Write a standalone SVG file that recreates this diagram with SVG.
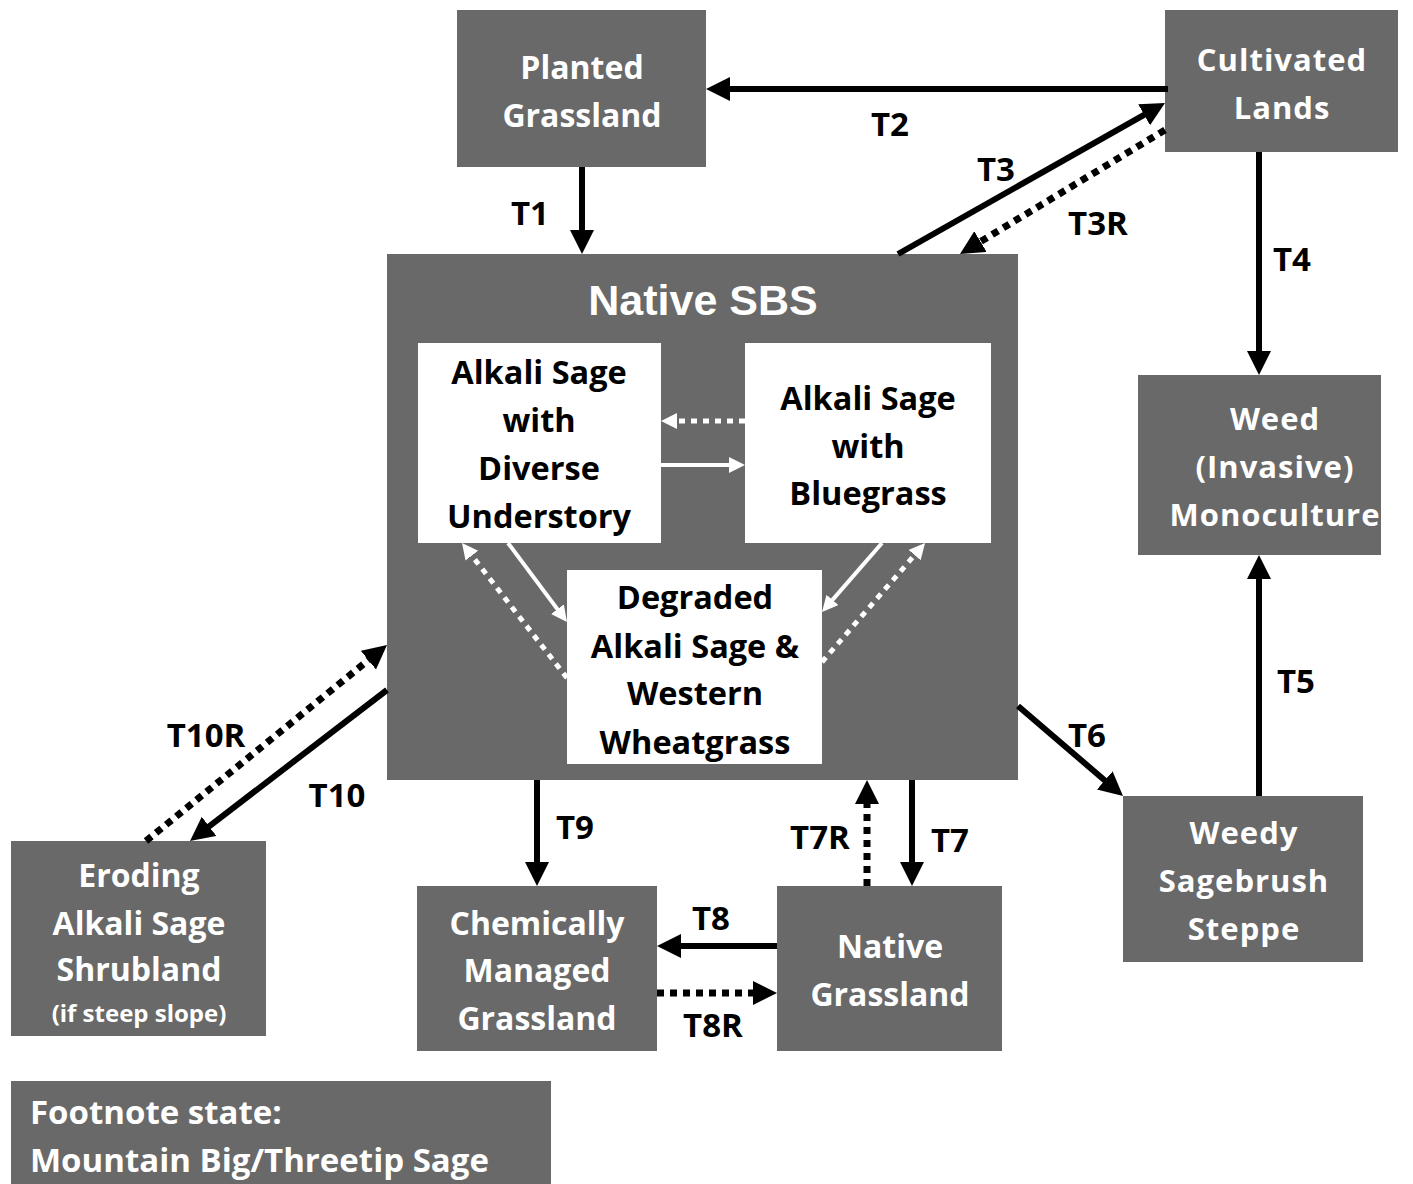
<svg xmlns="http://www.w3.org/2000/svg" width="1413" height="1184" viewBox="0 0 1413 1184">
<defs>
<marker id="ab" markerUnits="userSpaceOnUse" markerWidth="26" markerHeight="26" refX="4" refY="12" orient="auto"><path d="M0,0 L24,12 L0,24 z" fill="#000"/></marker>
<marker id="aw" markerUnits="userSpaceOnUse" markerWidth="18" markerHeight="18" refX="4" refY="8" orient="auto"><path d="M0,0 L16,8 L0,16 z" fill="#fff"/></marker>
</defs>
<style>
.box{fill:#696969}
.wbox{fill:#fff}
.t{font-family:"Open Sans","Liberation Sans",sans-serif;font-weight:700;font-size:32px;fill:#fff;text-anchor:middle}
.tw{font-size:31px;letter-spacing:1px}
.k{font-family:"Open Sans","Liberation Sans",sans-serif;font-weight:700;font-size:32.5px;fill:#000;text-anchor:middle}
.lbl{font-family:"Open Sans","Liberation Sans",sans-serif;font-weight:700;font-size:33px;fill:#000;text-anchor:middle}
.s{stroke:#000;stroke-width:6;fill:none;marker-end:url(#ab)}
.d{stroke:#000;stroke-width:7;fill:none;stroke-dasharray:7 6;marker-end:url(#ab)}
.sw{stroke:#fff;stroke-width:4;fill:none;marker-end:url(#aw)}
.dw{stroke:#fff;stroke-width:5;fill:none;stroke-dasharray:6 6;marker-end:url(#aw)}
</style>
<rect width="1413" height="1184" fill="#fff"/>
<g id="native-sbs">
<rect class="box" x="387" y="254" width="631" height="526"/>
<text x="703" y="315" style="font-family:'Liberation Sans',Arial,sans-serif;font-weight:700;font-size:43px;fill:#fff;text-anchor:middle">Native SBS</text>
</g>
<g id="diverse">
<rect class="wbox" x="418" y="343" width="243" height="200"/>
<text class="k" x="539" y="384">Alkali Sage</text>
<text class="k" x="539" y="432">with</text>
<text class="k" x="539" y="480">Diverse</text>
<text class="k" x="539" y="528">Understory</text>
</g>
<g id="bluegrass">
<rect class="wbox" x="745" y="343" width="246" height="200"/>
<text class="k" x="868" y="410">Alkali Sage</text>
<text class="k" x="868" y="458">with</text>
<text class="k" x="868" y="505">Bluegrass</text>
</g>
<g id="degraded">
<rect class="wbox" x="567" y="570" width="255" height="194"/>
<text class="k" x="695" y="609">Degraded</text>
<text class="k" x="695" y="658">Alkali Sage &amp;</text>
<text class="k" x="695" y="705">Western</text>
<text class="k" x="695" y="754">Wheatgrass</text>
</g>
<g id="planted">
<rect class="box" x="457" y="10" width="249" height="157"/>
<text class="t" x="582" y="79">Planted</text>
<text class="t" x="582" y="127">Grassland</text>
</g>
<g id="cultivated">
<rect class="box" x="1165" y="10" width="233" height="142"/>
<text class="t tw" x="1282" y="71">Cultivated</text>
<text class="t tw" x="1282" y="119">Lands</text>
</g>
<g id="weed">
<rect class="box" x="1138" y="375" width="243" height="180"/>
<text class="t tw" x="1275" y="430">Weed</text>
<text class="t tw" x="1275" y="478">(Invasive)</text>
<text class="t tw" x="1275" y="526">Monoculture</text>
</g>
<g id="weedy">
<rect class="box" x="1123" y="796" width="240" height="166"/>
<text class="t tw" x="1244" y="844">Weedy</text>
<text class="t tw" x="1244" y="892">Sagebrush</text>
<text class="t tw" x="1244" y="940">Steppe</text>
</g>
<g id="eroding">
<rect class="box" x="11" y="841" width="255" height="195"/>
<text class="t" x="139" y="887">Eroding</text>
<text class="t" x="139" y="935">Alkali Sage</text>
<text class="t" x="139" y="981">Shrubland</text>
<text class="t" x="139" y="1022" style="font-size:24px">(if steep slope)</text>
</g>
<g id="chemical">
<rect class="box" x="417" y="886" width="240" height="165"/>
<text class="t" x="537" y="935">Chemically</text>
<text class="t" x="537" y="982">Managed</text>
<text class="t" x="537" y="1030">Grassland</text>
</g>
<g id="native-grassland">
<rect class="box" x="777" y="886" width="225" height="165"/>
<text class="t" x="890" y="958">Native</text>
<text class="t" x="890" y="1006">Grassland</text>
</g>
<g id="footnote">
<rect class="box" x="11" y="1081" width="540" height="110"/>
<text class="t" x="30" y="1124" style="text-anchor:start;font-size:33px">Footnote state:</text>
<text class="t" x="30" y="1172" style="text-anchor:start;font-size:33px">Mountain Big/Threetip Sage</text>
</g>
<g id="connectors">
<line class="s" x1="1168" y1="89" x2="726" y2="89"/>
<line class="s" x1="582" y1="167" x2="582" y2="234"/>
<line class="s" x1="898" y1="254" x2="1147.6" y2="112.8"/>
<line class="d" x1="1165" y1="130" x2="977.1" y2="243.7"/>
<line class="s" x1="1259" y1="152" x2="1259" y2="355"/>
<line class="s" x1="1259" y1="796" x2="1259" y2="575"/>
<line class="s" x1="1018" y1="706" x2="1107.8" y2="783"/>
<line class="s" x1="912" y1="780" x2="912" y2="866"/>
<line class="d" x1="867" y1="886" x2="867" y2="800"/>
<line class="s" x1="537" y1="780" x2="537" y2="866"/>
<line class="s" x1="777" y1="946" x2="677" y2="946"/>
<line class="d" x1="657" y1="993" x2="757" y2="993"/>
<line class="s" x1="387" y1="690" x2="205.9" y2="828.8"/>
<line class="d" x1="146" y1="841" x2="371.5" y2="657.6"/>
<line class="dw" x1="745" y1="421" x2="673" y2="421"/>
<line class="sw" x1="661" y1="465" x2="733" y2="465"/>
<line class="sw" x1="508" y1="543" x2="559.8" y2="612.4"/>
<line class="dw" x1="567" y1="678" x2="469.4" y2="552.5"/>
<line class="sw" x1="882" y1="543" x2="829.9" y2="602.9"/>
<line class="dw" x1="822" y1="662" x2="917.2" y2="552.1"/>
<text class="lbl" x="890" y="136">T2</text>
<text class="lbl" x="530" y="225">T1</text>
<text class="lbl" x="996" y="181">T3</text>
<text class="lbl" x="1098" y="235">T3R</text>
<text class="lbl" x="1292" y="271">T4</text>
<text class="lbl" x="1296" y="693">T5</text>
<text class="lbl" x="1087" y="747">T6</text>
<text class="lbl" x="206" y="747">T10R</text>
<text class="lbl" x="337" y="807">T10</text>
<text class="lbl" x="575" y="839">T9</text>
<text class="lbl" x="820" y="849">T7R</text>
<text class="lbl" x="950" y="852">T7</text>
<text class="lbl" x="711" y="930">T8</text>
<text class="lbl" x="713" y="1037">T8R</text>
</g>
</svg>
